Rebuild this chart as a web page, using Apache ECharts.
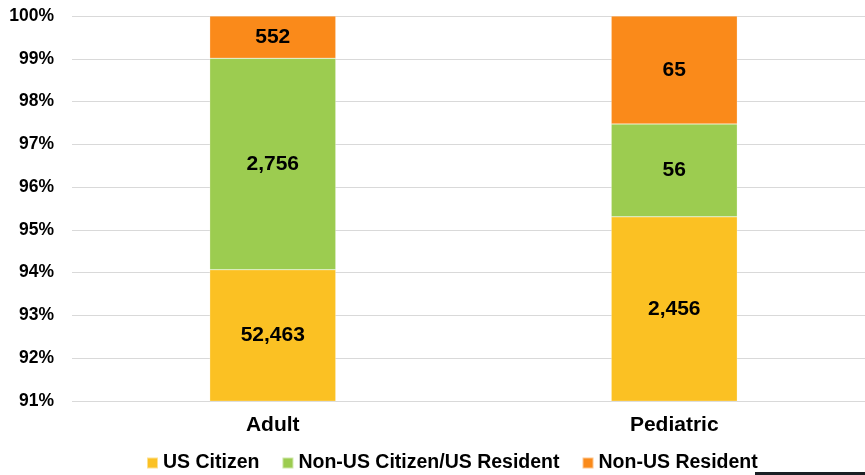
<!DOCTYPE html>
<html>
<head>
<meta charset="utf-8">
<script src="https://cdn.jsdelivr.net/npm/echarts@6/dist/echarts.min.js"></script>
<style>
  html, body { margin: 0; padding: 0; background: #fff; }
  #chart { width: 865px; height: 475px; }
</style>
</head>
<body>
<div id="chart"></div>
<script>
// categories and patient counts per group
const categories = ["Adult", "Pediatric"];
const seriesNames = ["US Citizen", "Non-US Citizen/US Resident", "Non-US Resident"];
const usCitizen = [52463, 2456];
const nonUsCitizenResident = [2756, 56];
const nonUsResident = [552, 65];
const yTicks = [91, 92, 93, 94, 95, 96, 97, 98, 99, 100];

const colors = ["#FBC123", "#9CCC50", "#FA8A1A"];
const counts = [usCitizen, nonUsCitizenResident, nonUsResident];
const totals = categories.map((_, i) => counts.reduce((s, arr) => s + arr[i], 0));

const chart = echarts.init(document.getElementById("chart"));

const option = {
  animation: false,
  textStyle: { fontFamily: "Liberation Sans, Arial, sans-serif" },
  grid: { left: 72, width: 803, top: 16, height: 385, outerBoundsMode: "none", containLabel: false },
  legend: {
    top: 453,
    left: 146,
    padding: 0,
    itemWidth: 11,
    itemHeight: 11,
    itemGap: 22,
    icon: "rect",
    textStyle: { fontSize: 19.5, fontWeight: "bold", color: "#000" },
    data: seriesNames
  },
  xAxis: {
    type: "category",
    data: categories,
    axisLine: { show: false },
    axisTick: { show: false },
    axisLabel: { fontSize: 21, fontWeight: "bold", color: "#000", margin: 14 }
  },
  yAxis: {
    type: "value",
    min: yTicks[0],
    max: yTicks[yTicks.length - 1],
    interval: 1,
    axisLine: { show: false },
    axisTick: { show: false },
    splitLine: { lineStyle: { color: "#d9d9d9", width: 1 } },
    axisLabel: {
      fontSize: 17.5, fontWeight: "bold", color: "#000", margin: 18,
      formatter: "{value}%"
    }
  },
  series: seriesNames.map((name, k) => ({
    name: name,
    type: "bar",
    stack: "total",
    barWidth: "31.4%",
    itemStyle: { color: colors[k], borderColor: "rgba(255,255,255,0.5)", borderWidth: 0.5 },
    label: {
      show: true,
      position: "inside",
      fontSize: 21,
      fontWeight: "bold",
      color: "#000",
      formatter: p => counts[k][p.dataIndex].toLocaleString("en-US")
    },
    data: counts[k].map((v, i) => v / totals[i] * 100)
  })),
  graphic: [{
    type: "rect",
    right: 0,
    bottom: 0,
    shape: { width: 110, height: 3 },
    style: { fill: "#1a1f24" }
  }]
};

chart.setOption(option);
</script>
</body>
</html>
